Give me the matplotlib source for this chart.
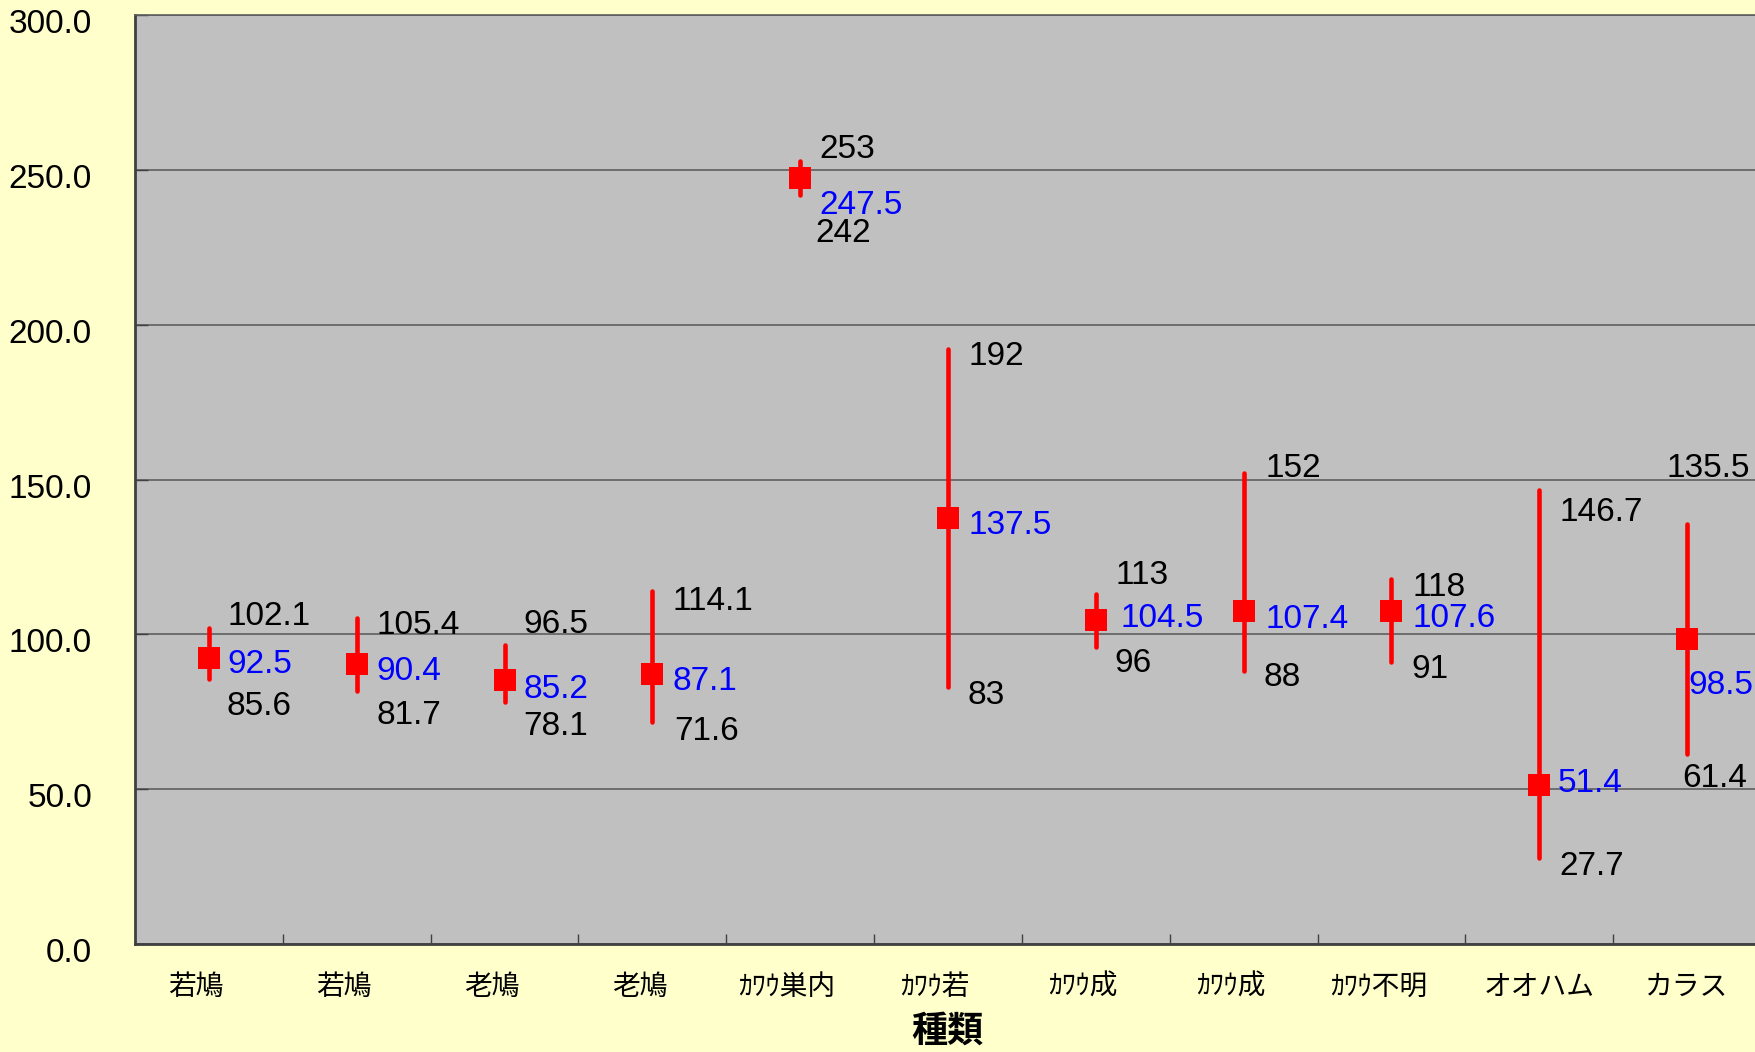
import numpy as np
import matplotlib
matplotlib.use('Agg')
import matplotlib.pyplot as plt
from matplotlib.transforms import ScaledTranslation

plt.rcParams['font.family'] = ['Liberation Sans', 'Noto Sans CJK JP']

# data
categories = ['若鳩', '若鳩', '老鳩', '老鳩', 'ｶﾜｳ巣内', 'ｶﾜｳ若', 'ｶﾜｳ成', 'ｶﾜｳ成',
              'ｶﾜｳ不明', 'オオハム', 'カラス']
high = [102.1, 105.4, 96.5, 114.1, 253, 192, 113, 152, 118, 146.7, 135.5]
mean = [92.5, 90.4, 85.2, 87.1, 247.5, 137.5, 104.5, 107.4, 107.6, 51.4, 98.5]
low = [85.6, 81.7, 78.1, 71.6, 242, 83, 96, 88, 91, 27.7, 61.4]
yticks = [0, 50, 100, 150, 200, 250, 300]

# label placement (pixels: dx right, dy down from the point to the text centre)
high_off = [(19, -15), (20, 4), (19, -24), (20, 7), (19, -15), (21, 4),
            (20, -22), (22, -8), (21, 5), (20, 19), (-21, -59)]
mean_off = [(18, 3), (20, 4), (19, 6), (20, 4), (19, 24), (21, 4),
            (25, -5), (22, 5), (21, 4), (18, -5), (1, 43)]
low_off = [(18, 24), (20, 21), (19, 21), (22, 6), (15, 35), (20, 5),
           (19, 13), (20, 3), (20, 4), (20, 5), (-5, 21)]
cat_shift = [-13, -13, -13, -13, -13, -13, -13, -13, -13, 0, 0]

fig = plt.figure(figsize=(17.56, 10.52), dpi=100, facecolor='#FFFFCC')
ax = fig.add_axes([135 / 1756, 108 / 1052, 1626 / 1756, 929 / 1052])
ax.set_facecolor('#C0C0C0')

x = np.arange(len(categories))
lc = ax.vlines(x, low, high, color='red', lw=3.3, zorder=3)
lc.set_capstyle('round')
ax.plot(x, mean, 's', color='red', ms=16.5, mew=0, zorder=4)


def put(vals, offs, color):
    for i, (v, (dx, dy)) in enumerate(zip(vals, offs)):
        ax.annotate(f'{v:g}', (i, v), xytext=(dx, -(dy + 12)),
                    textcoords='offset pixels', ha='left', va='baseline',
                    fontsize=24, color=color, zorder=5, annotation_clip=False)


put(high, high_off, 'black')
put(mean, mean_off, 'blue')
put(low, low_off, 'black')

ax.set_xlim(-0.5, len(categories) - 0.5)
ax.set_ylim(0, 300)
ax.set_yticks(yticks)
ax.set_yticklabels([f'{t:.1f}' for t in yticks])
ax.yaxis.grid(True, color='#5F5F5F', lw=1.2)
ax.set_axisbelow(True)

ax.set_xticks(x)
ax.set_xticklabels(categories)
ax.set_xticks(np.arange(0.5, len(categories) - 0.5, 1), minor=True)
ax.tick_params(axis='x', which='major', length=0, pad=22, labelsize=20)
ax.tick_params(axis='x', which='minor', direction='in', length=7, width=1,
               color='#404040')
ax.tick_params(axis='y', direction='in', length=9, width=1, color='#404040',
               pad=31, labelsize=24)

for lbl, s in zip(ax.get_xticklabels(), cat_shift):
    lbl.set_transform(lbl.get_transform() +
                      ScaledTranslation(s / 100, 0, fig.dpi_scale_trans))
for lbl in ax.get_yticklabels():
    lbl.set_transform(lbl.get_transform() +
                      ScaledTranslation(0, -6 / 100, fig.dpi_scale_trans))

for side in ['left', 'bottom']:
    ax.spines[side].set_color('#404040')
    ax.spines[side].set_linewidth(2)
ax.spines['top'].set_color('#5F5F5F')
ax.spines['top'].set_linewidth(1.2)
ax.spines['right'].set_visible(False)

fig.text(947 / 1756, 1 - 1031 / 1052, '種類', ha='center', va='center',
         fontsize=26, fontweight='bold', family=['Noto Sans CJK JP'])

fig.savefig('out.png', dpi=100, facecolor=fig.get_facecolor())
